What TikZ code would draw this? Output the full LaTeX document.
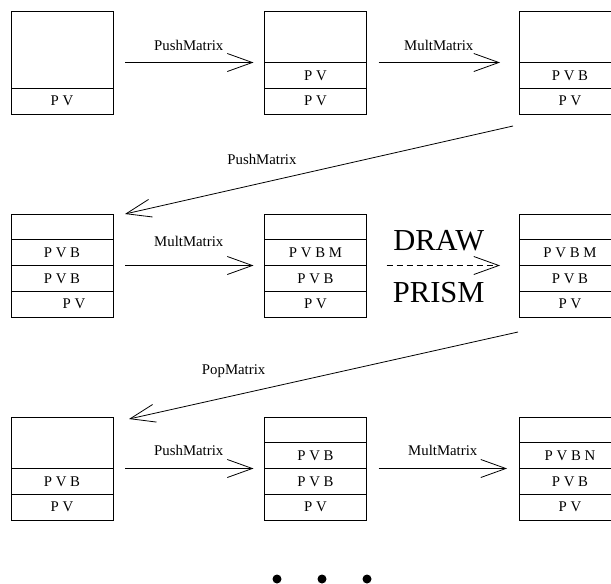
\documentclass[tikz,border=0pt]{standalone}
\usepackage{fontspec}
\setmainfont{Liberation Serif}
\usetikzlibrary{arrows.meta,positioning}

\begin{document}
\begin{tikzpicture}[x=1pt, y=-1pt, line width=0.8pt, stack/.style = {draw, rectangle, minimum width=102pt, minimum height=103pt, inner sep=0pt, outer sep=0pt}, cell/.style = {draw, rectangle, minimum width=102pt, minimum height=25.75pt, inner sep=0pt, outer sep=0pt, font=\fontsize{14.8}{17}\selectfont}, op/.style = {-{Straight Barb[length=25pt, width=18pt]}}, oplabel/.style = {anchor=base, font=\fontsize{14.8}{17}\selectfont}, biglabel/.style = {anchor=base, font=\fontsize{30.5}{34}\selectfont}, dot/.style = {circle, fill=black, minimum size=9pt, inner sep=0pt}]

    \path[use as bounding box] (0,0) rectangle (611,584);
    \clip (0,0) rectangle (611,584);

    % 1. Matrix stacks, three rows of three
    \node[stack] (s11) at (62,62.5) {};
    \node[stack] (s12) at (315.5,62.5) {};
    \node[stack] (s13) at (570,62.5) {};
    \node[stack] (s21) at (62,265.5) {};
    \node[stack] (s22) at (315.5,265.5) {};
    \node[stack] (s23) at (570,265.5) {};
    \node[stack] (s31) at (62,468.5) {};
    \node[stack] (s32) at (315.5,468.5) {};
    \node[stack] (s33) at (570,468.5) {};

    % 2. Stack entries, bottom first
    \node[cell, anchor=south] (c11a) at (s11.south) {P V};

    \node[cell, anchor=south] (c12a) at (s12.south) {P V};
    \node[cell, above=0pt of c12a] (c12b) {P V};

    \node[cell, anchor=south] (c13a) at (s13.south) {P V};
    \node[cell, above=0pt of c13a] (c13b) {P V B};

    \node[cell, anchor=south] (c21a) at (s21.south) {\hspace*{24pt}P V};
    \node[cell, above=0pt of c21a] (c21b) {P V B};
    \node[cell, above=0pt of c21b] (c21c) {P V B};

    \node[cell, anchor=south] (c22a) at (s22.south) {P V};
    \node[cell, above=0pt of c22a] (c22b) {P V B};
    \node[cell, above=0pt of c22b] (c22c) {P V B M};

    \node[cell, anchor=south] (c23a) at (s23.south) {P V};
    \node[cell, above=0pt of c23a] (c23b) {P V B};
    \node[cell, above=0pt of c23b] (c23c) {P V B M};

    \node[cell, anchor=south] (c31a) at (s31.south) {P V};
    \node[cell, above=0pt of c31a] (c31b) {P V B};

    \node[cell, anchor=south] (c32a) at (s32.south) {P V};
    \node[cell, above=0pt of c32a] (c32b) {P V B};
    \node[cell, above=0pt of c32b] (c32c) {P V B};

    \node[cell, anchor=south] (c33a) at (s33.south) {P V};
    \node[cell, above=0pt of c33a] (c33b) {P V B};
    \node[cell, above=0pt of c33b] (c33c) {P V B N};

    % 3. Operations between the stacks
    \draw[op, shorten <=12pt, shorten >=11pt] (s11) -- node[oplabel, yshift=12pt] {PushMatrix} (s12);
    \draw[op, shorten <=12pt, shorten >=19pt] (s12) -- node[oplabel, xshift=-4pt, yshift=12pt] {MultMatrix} (s13);
    \draw[op] ([xshift=-6pt, yshift=-12pt]s13.south west) -- node[oplabel, pos=0.647, yshift=18.5pt] {PushMatrix} ([xshift=12pt]s21.north east);

    \draw[op, shorten <=12pt, shorten >=11pt] (s21) -- node[oplabel, yshift=19pt] {MultMatrix} (s22);
    \draw[op, dashed, dash pattern=on 6pt off 4pt, shorten <=20pt, shorten >=19pt] (s22) -- node[biglabel, xshift=-4pt, yshift=15pt] {DRAW} node[biglabel, xshift=-4pt, yshift=-37pt] {PRISM} (s23);
    \draw[op] ([xshift=-1pt, yshift=-15pt]s23.south west) -- node[oplabel, pos=0.731, yshift=21.5pt] {PopMatrix} ([xshift=16pt, yshift=-2pt]s31.north east);

    \draw[op, shorten <=12pt, shorten >=11pt] (s31) -- node[oplabel, yshift=13pt] {PushMatrix} (s32);
    \draw[op, shorten <=12pt, shorten >=12pt] (s32) -- node[oplabel, yshift=13pt] {MultMatrix} (s33);

    % 4. And so on
    \node[dot] (d1) at (277,579) {};
    \node[dot] (d2) at (322,579) {};
    \node[dot] (d3) at (367,579) {};
\end{tikzpicture}
\end{document}
